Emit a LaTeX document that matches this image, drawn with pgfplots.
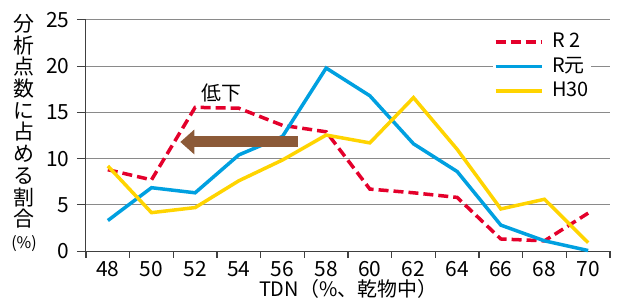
\documentclass[border=0pt]{standalone}
\usepackage{pgfplots}
\pgfplotsset{compat=1.18}
\usepackage{fontspec}
\setmainfont{Noto Sans CJK JP}
\usetikzlibrary{arrows.meta}
\definecolor{cred}{HTML}{E4002B}
\definecolor{cblue}{HTML}{00A0E0}
\definecolor{cyel}{HTML}{FFD400}
\definecolor{cbrown}{HTML}{8C5A38}
\definecolor{cgrid}{HTML}{8A8A8A}
\definecolor{caxis}{HTML}{404040}
\begin{document}
\begin{tikzpicture}
\useasboundingbox (-86bp,-51bp) rectangle (537bp,251bp);
\begin{axis}[
  at={(0,0)}, anchor=south west,
  scale only axis, width=524bp, height=231bp,
  xmin=-0.5, xmax=11.5, ymin=0, ymax=25,
  axis x line*=bottom, axis y line*=left,
  axis line style={caxis, line width=1bp},
  xtick={0,...,11},
  xticklabels={48,50,52,54,56,58,60,62,64,66,68,70},
  xtick style={draw=none},
  ytick={0,5,...,25},
  ytick style={caxis, line width=1bp},
  tick align=outside,
  major tick length=9bp,
  ymajorgrids, grid style={cgrid, line width=1bp},
  ticklabel style={font=\fontsize{21}{24}\selectfont},
  /pgf/number format/assume math mode=true,
  yticklabel style={xshift=-4bp},
  xticklabel style={yshift=2bp},
  xlabel={TDN（\%、乾物中）},
  xlabel style={font=\fontsize{20}{24}\selectfont, yshift=4bp},
  clip=false,
  legend style={at={(0.776,0.955)}, anchor=north west, draw=none, fill=white,
    font=\fontsize{20}{24}\selectfont, inner sep=1bp,
    nodes={inner sep=1bp, text height=15bp, text depth=4bp},
    row sep=3.5bp},
  legend cell align=left,
  legend image code/.code={\draw[#1] (0bp,0bp) -- (46bp,0bp); \path (54bp,0bp);},
]
\addplot[cred, line width=3.5bp, dash pattern=on 10bp off 5bp] coordinates {
(0,8.8) (1,7.7) (2,15.55) (3,15.45) (4,13.6) (5,12.9) (6,6.7) (7,6.3) (8,5.8) (9,1.3) (10,1.1) (11,4.1)};
\addlegendentry{R 2}
\addplot[cblue, line width=3.5bp] coordinates {
(0,3.3) (1,6.85) (2,6.3) (3,10.4) (4,12.4) (5,19.8) (6,16.8) (7,11.6) (8,8.6) (9,2.8) (10,1.1) (11,0.05)};
\addlegendentry{R元}
\addplot[cyel, line width=3.5bp] coordinates {
(0,9.2) (1,4.15) (2,4.7) (3,7.6) (4,9.85) (5,12.55) (6,11.7) (7,16.6) (8,11.0) (9,4.55) (10,5.6) (11,0.9)};
\addlegendentry{H30}
\draw[cbrown, line width=11bp, -{Triangle[width=24bp,length=14bp]}] (axis cs:4.35,11.8) -- (axis cs:1.66,11.8);
\node[font=\fontsize{20}{24}\selectfont] at (axis cs:2.6,17.1) {低下};
\end{axis}
\foreach \k in {0,...,12} {
  \draw[caxis, line width=1.2bp] (\k*43.6667bp,0bp) -- (\k*43.6667bp,-6.5bp);
}
\node[anchor=north, align=center, inner sep=0pt, font=\fontsize{21}{21.8}\selectfont] at (-62bp,237bp)
  {分\\析\\点\\数\\に\\占\\め\\る\\割\\合\\{\fontsize{16}{18}\selectfont(\%)}};
\end{tikzpicture}
\end{document}
